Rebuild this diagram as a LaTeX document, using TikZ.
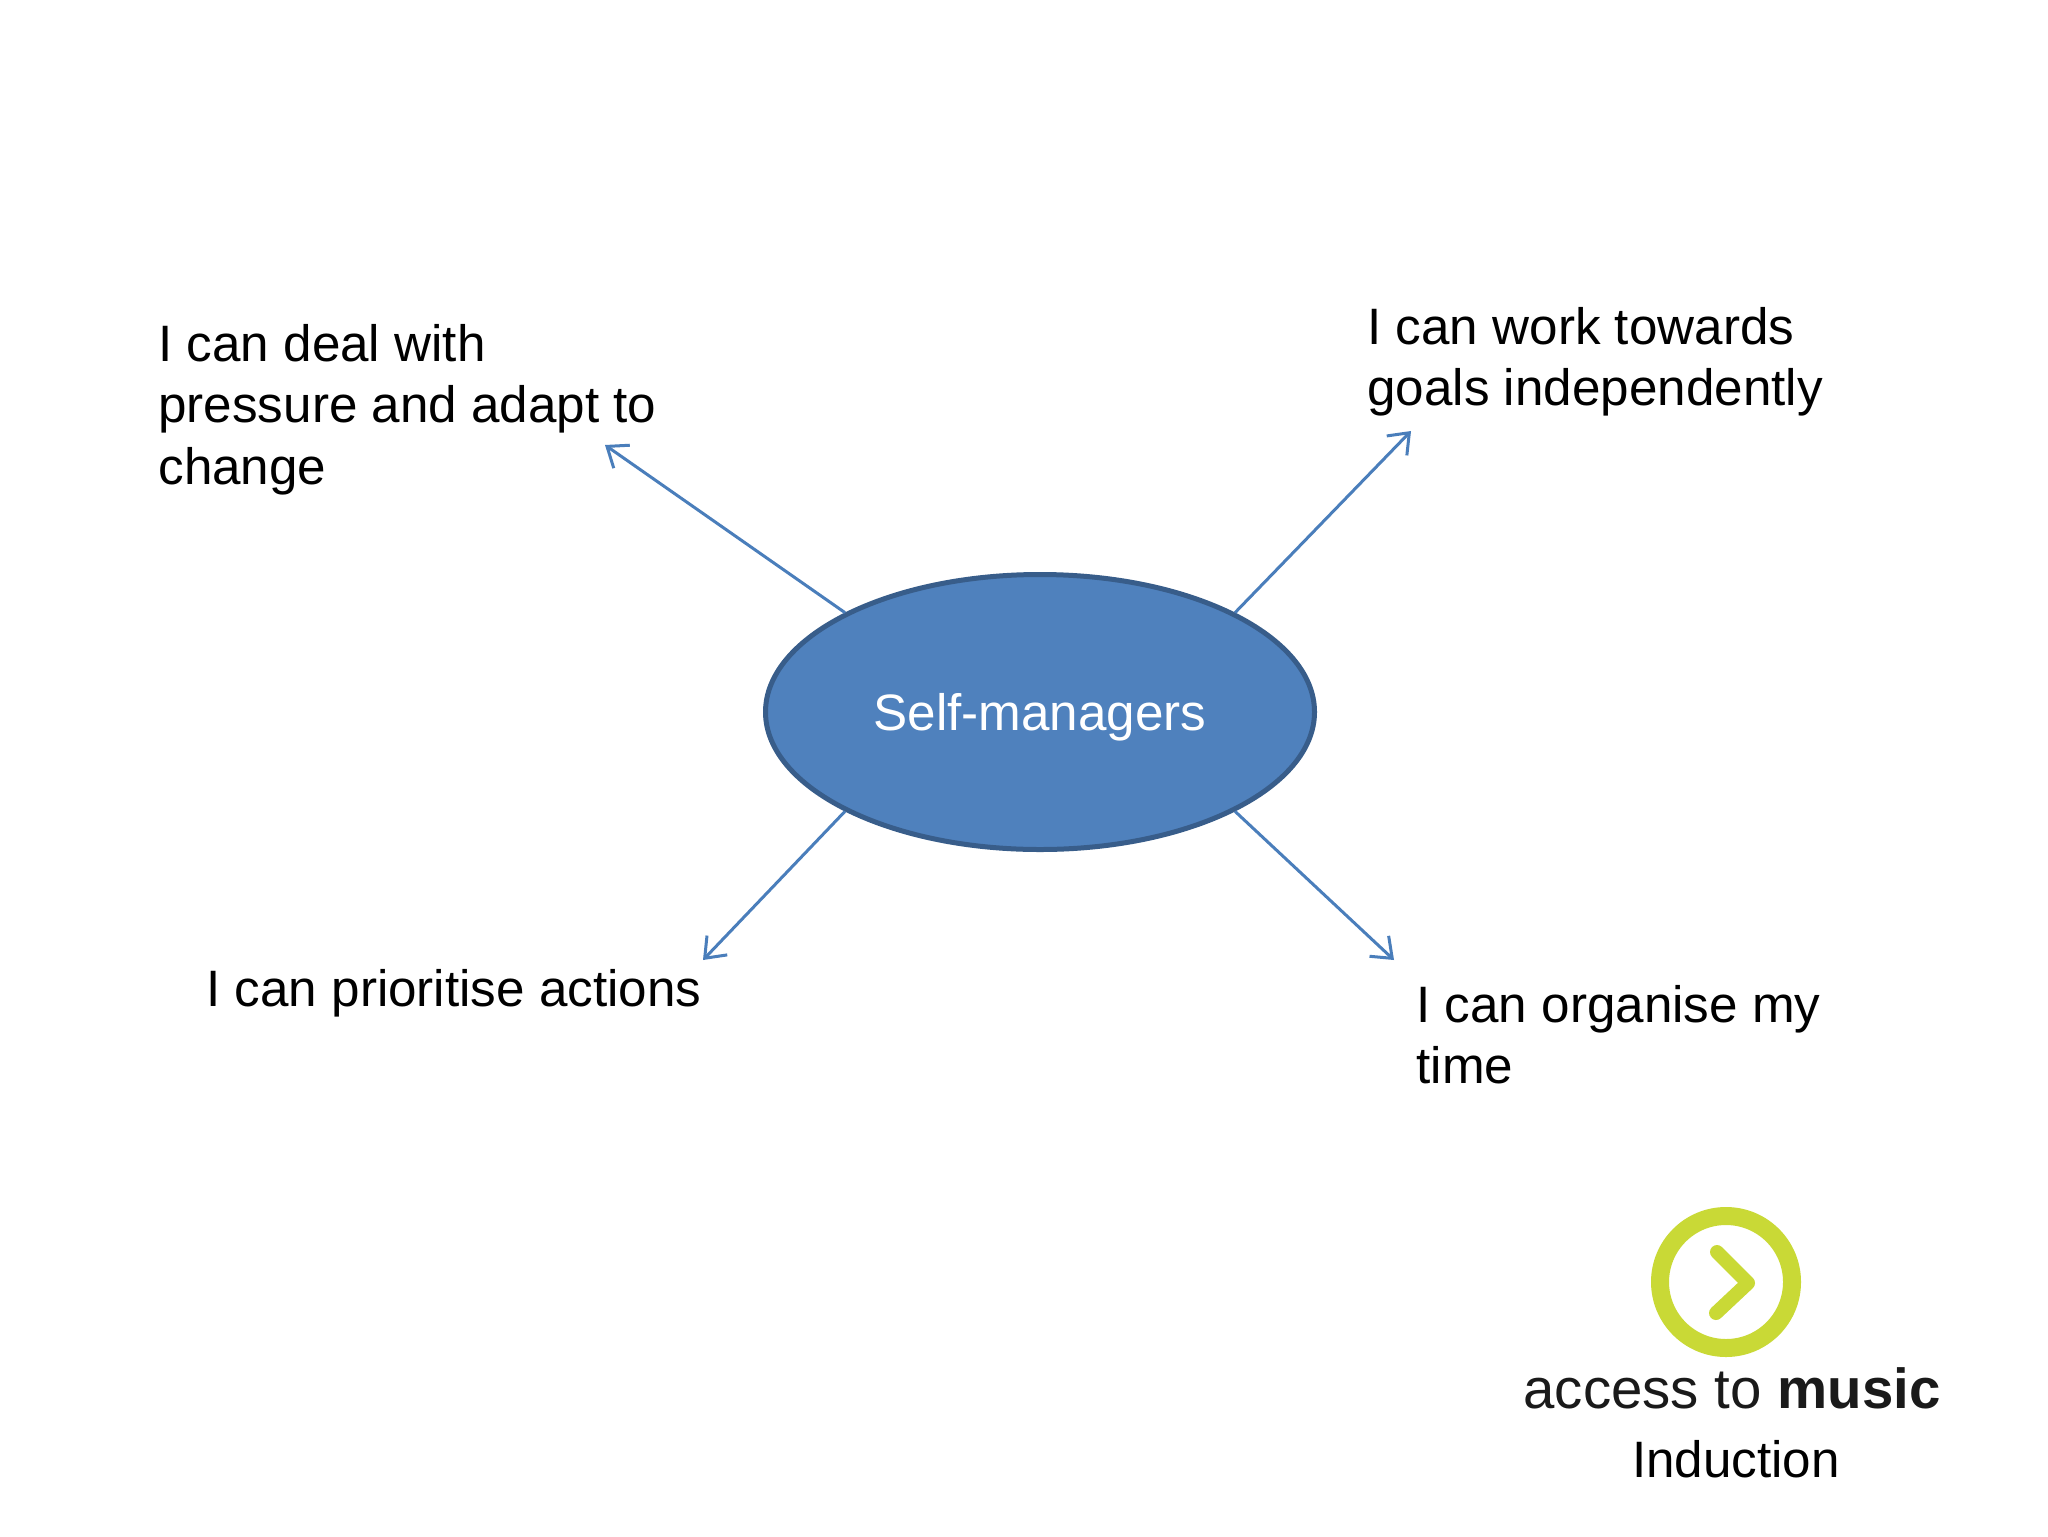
\documentclass[tikz,border=0pt]{standalone}
\usepackage{fontspec}
\setmainfont{Liberation Sans}
\usetikzlibrary{arrows.meta,shapes.geometric}
\definecolor{fillblue}{HTML}{4F81BD}
\definecolor{edgeblue}{HTML}{385D8A}
\definecolor{arrowblue}{HTML}{4A7EBB}
\definecolor{logogreen}{HTML}{C9D936}
\definecolor{logotext}{HTML}{1A1A1A}
\tikzset{
  label/.style={anchor=north west,inner sep=0pt,align=left,text=black,font=\fontsize{25.6}{30.7}\selectfont},
  hub/.style={ellipse,minimum width=274.5pt,minimum height=137.5pt,inner sep=0pt,fill=fillblue,draw=edgeblue,line width=2.5pt,text=white,font=\fontsize{25.6}{30.7}\selectfont},
  spoke/.style={draw=arrowblue,line width=1.5pt,-{Straight Barb[length=9pt,width=14pt,line width=1.5pt]}}
}
\begin{document}
\begin{tikzpicture}[x=0.5pt,y=-0.5pt]
\useasboundingbox[fill=white] (0,0) rectangle (2048,1536);
\node[hub] (hub) at (1040,712) {\rule{0pt}{24pt}Self-managers};
\node[label] (pressure) at (158,324) {I can deal with\\pressure and adapt to\\change};
\node[label] (goals) at (1367,307) {I can work towards\\goals independently};
\node[label] (prioritise) at (206,969) {I can prioritise actions};
\node[label] (organise) at (1416,985) {I can organise my\\time};
\coordinate (endtl) at (605,445);
\coordinate (endtr) at (1411,431);
\coordinate (endbl) at (703,960);
\coordinate (endbr) at (1394,960);
\draw[spoke] (hub.153.2) -- (endtl);
\draw[spoke] (hub.27.4) -- (endtr);
\draw[spoke] (hub.207.3) -- (endbl);
\draw[spoke] (hub.333.1) -- (endbr);
% logo
\node[circle,minimum size=66pt,inner sep=0pt,draw=logogreen,line width=9pt] (ring) at (1726,1282) {};
\coordinate (cha) at (1717,1252);
\coordinate (chb) at (1748,1283);
\coordinate (chc) at (1716,1313);
\draw[logogreen,line width=7pt,line cap=round,line join=round] (cha) -- (chb) -- (chc);
\node[anchor=base,inner sep=0pt,text=logotext,font=\fontsize{28.2}{30}\selectfont] (logo) at (1732,1408) {access to \textbf{music}};
\node[anchor=base,inner sep=0pt,text=black,font=\fontsize{25.6}{30.7}\selectfont] (induction) at (1736,1477) {Induction};
\end{tikzpicture}
\end{document}
